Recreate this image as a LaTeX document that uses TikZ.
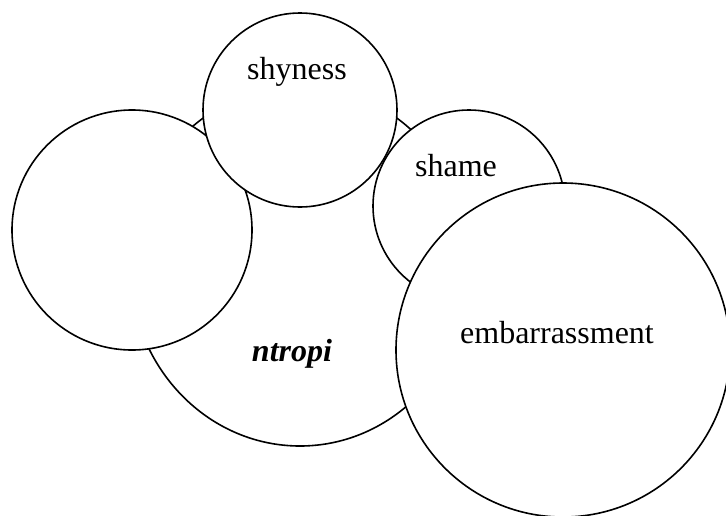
\documentclass[tikz,border=0pt]{standalone}
\usepackage{fontspec}
\setmainfont{Liberation Serif}
\usetikzlibrary{shapes.geometric}
\begin{document}
\begin{tikzpicture}[x=1pt,y=-1pt,
  bubble/.style={circle,draw,fill=white,line width=1.6pt,inner sep=0pt},
  lbl/.style={font=\fontsize{32}{38}\selectfont,anchor=base,inner sep=0pt}]
\useasboundingbox (0,0) rectangle (726,515);
\node[ellipse,draw,fill=white,line width=1.6pt,inner sep=0pt,minimum width=340pt,minimum height=360pt] (ntropi) at (300,266) {};
\node[bubble,minimum size=240pt] (leftc) at (132,230) {};
\node[bubble,minimum size=194pt] (shyness) at (300,110) {};
\node[bubble,minimum size=192pt] (shame) at (469,206) {};
\node[bubble,minimum size=334pt] (emb) at (563,350) {};
\node[lbl] (tshy) at (297,79) {shyness};
\node[lbl] (tshame) at (456,176) {shame};
\node[lbl] (temb) at (557,343) {embarrassment};
\node[lbl,font=\fontsize{32}{38}\selectfont\bfseries\itshape] (tntropi) at (292,361) {ntropi};
\end{tikzpicture}
\end{document}
